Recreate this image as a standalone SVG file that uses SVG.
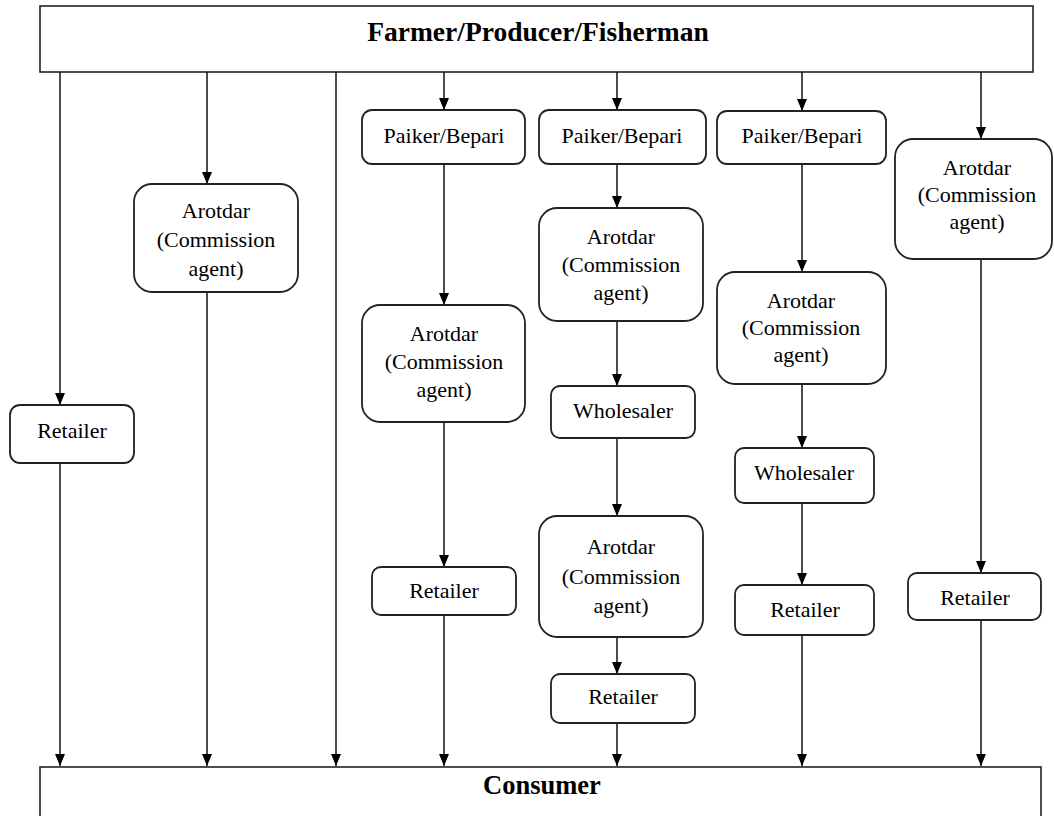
<svg xmlns="http://www.w3.org/2000/svg" width="1054" height="816" viewBox="0 0 1054 816">
<style>
.bx{fill:#fff;stroke:#222;stroke-width:1.8}
.big{fill:#fff;stroke:#222;stroke-width:1.6}
.t{font-family:"Liberation Serif","Times New Roman",serif;font-size:22px;fill:#000;text-anchor:middle}
.h{font-family:"Liberation Serif","Times New Roman",serif;font-weight:bold;fill:#000;text-anchor:middle}
.c line{stroke:#111;stroke-width:1.5;marker-end:url(#ar)}
</style>
<defs>
<marker id="ar" viewBox="0 0 12 10" refX="12" refY="5" markerWidth="12" markerHeight="10" markerUnits="userSpaceOnUse" orient="auto">
<path d="M0,0 L12,5 L0,10 z" fill="#000"/>
</marker>
</defs>
<rect width="1054" height="816" fill="#fff"/>
<g id="farmer"><rect class="big" x="40" y="6" width="993" height="66"/><text class="h" x="538" y="41" font-size="27.5">Farmer/Producer/Fisherman</text></g>
<g id="consumer"><rect class="big" x="40" y="767" width="1001" height="60"/><text class="h" x="542" y="794" font-size="26.5">Consumer</text></g>
<g class="c" id="connectors">
<line x1="60" y1="72" x2="60" y2="405"/>
<line x1="60" y1="463" x2="60" y2="766"/>
<line x1="207" y1="72" x2="207" y2="184"/>
<line x1="207" y1="292" x2="207" y2="766"/>
<line x1="336" y1="72" x2="336" y2="766"/>
<line x1="444" y1="72" x2="444" y2="110"/>
<line x1="444" y1="164" x2="444" y2="305"/>
<line x1="444" y1="422" x2="444" y2="567"/>
<line x1="444" y1="615" x2="444" y2="766"/>
<line x1="617" y1="72" x2="617" y2="110"/>
<line x1="617" y1="164" x2="617" y2="208"/>
<line x1="617" y1="321" x2="617" y2="386"/>
<line x1="617" y1="438" x2="617" y2="516"/>
<line x1="617" y1="637" x2="617" y2="674"/>
<line x1="617" y1="723" x2="617" y2="766"/>
<line x1="802" y1="72" x2="802" y2="111"/>
<line x1="802" y1="164" x2="802" y2="272"/>
<line x1="802" y1="384" x2="802" y2="448"/>
<line x1="802" y1="503" x2="802" y2="585"/>
<line x1="802" y1="635" x2="802" y2="766"/>
<line x1="981" y1="72" x2="981" y2="139"/>
<line x1="981" y1="259" x2="981" y2="573"/>
<line x1="981" y1="620" x2="981" y2="766"/>
</g>
<g id="retailer1"><rect class="bx" x="10" y="405" width="124" height="58" rx="10"/><text class="t" x="72" y="438">Retailer</text></g>
<g id="arotdar2"><rect class="bx" x="134" y="184" width="164" height="108" rx="18"/><text class="t" x="216" y="218">Arotdar</text><text class="t" x="216" y="247">(Commission</text><text class="t" x="216" y="276">agent)</text></g>
<g id="paiker4"><rect class="bx" x="362" y="110" width="163" height="54" rx="10"/><text class="t" x="444" y="143">Paiker/Bepari</text></g>
<g id="arotdar4"><rect class="bx" x="362" y="305" width="163" height="117" rx="18"/><text class="t" x="444" y="341">Arotdar</text><text class="t" x="444" y="369">(Commission</text><text class="t" x="444" y="397">agent)</text></g>
<g id="retailer4"><rect class="bx" x="372" y="567" width="144" height="48" rx="9"/><text class="t" x="444" y="598">Retailer</text></g>
<g id="paiker5"><rect class="bx" x="539" y="110" width="167" height="54" rx="10"/><text class="t" x="622" y="143">Paiker/Bepari</text></g>
<g id="arotdar5a"><rect class="bx" x="539" y="208" width="164" height="113" rx="18"/><text class="t" x="621" y="244">Arotdar</text><text class="t" x="621" y="272">(Commission</text><text class="t" x="621" y="300">agent)</text></g>
<g id="wholesaler5"><rect class="bx" x="551" y="386" width="144" height="52" rx="9"/><text class="t" x="623" y="418">Wholesaler</text></g>
<g id="arotdar5b"><rect class="bx" x="539" y="516" width="164" height="121" rx="18"/><text class="t" x="621" y="554">Arotdar</text><text class="t" x="621" y="584">(Commission</text><text class="t" x="621" y="613">agent)</text></g>
<g id="retailer5"><rect class="bx" x="551" y="674" width="144" height="49" rx="9"/><text class="t" x="623" y="704">Retailer</text></g>
<g id="paiker6"><rect class="bx" x="717" y="111" width="169" height="53" rx="10"/><text class="t" x="802" y="143">Paiker/Bepari</text></g>
<g id="arotdar6"><rect class="bx" x="717" y="272" width="169" height="112" rx="18"/><text class="t" x="801" y="308">Arotdar</text><text class="t" x="801" y="335">(Commission</text><text class="t" x="801" y="362">agent)</text></g>
<g id="wholesaler6"><rect class="bx" x="735" y="448" width="139" height="55" rx="9"/><text class="t" x="804" y="480">Wholesaler</text></g>
<g id="retailer6"><rect class="bx" x="735" y="585" width="139" height="50" rx="9"/><text class="t" x="805" y="617">Retailer</text></g>
<g id="arotdar7"><rect class="bx" x="895" y="139" width="157" height="120" rx="18"/><text class="t" x="977" y="175">Arotdar</text><text class="t" x="977" y="202">(Commission</text><text class="t" x="977" y="229">agent)</text></g>
<g id="retailer7"><rect class="bx" x="908" y="573" width="133" height="47" rx="9"/><text class="t" x="975" y="605">Retailer</text></g>
</svg>
